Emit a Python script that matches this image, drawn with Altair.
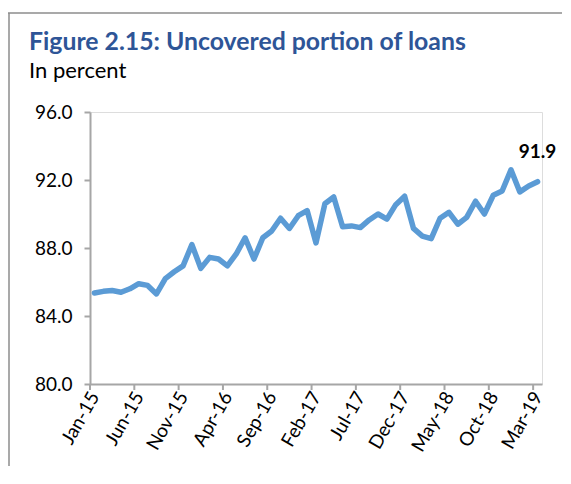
import altair as alt
import pandas as pd

# ---- data ----
months = list(pd.date_range("2015-01-01", periods=51, freq="MS").strftime("%b-%y"))
values = [85.35, 85.45, 85.5, 85.4, 85.6, 85.9, 85.8, 85.3, 86.2, 86.6,
          86.95, 88.2, 86.8, 87.45, 87.35, 86.95, 87.65, 88.6, 87.35, 88.6,
          89.0, 89.75, 89.15, 89.9, 90.2, 88.3, 90.6, 91.0, 89.25, 89.3,
          89.2, 89.65, 90.0, 89.7, 90.55, 91.05, 89.15, 88.7, 88.55, 89.75,
          90.1, 89.4, 89.8, 90.75, 90.0, 91.1, 91.35, 92.6, 91.3, 91.65,
          91.9]
y_ticks = [80, 84, 88, 92, 96]
label_idx = list(range(0, 51, 5))
tick_bounds = [i - 0.5 for i in label_idx]
title_text = ["Figure 2.15: Uncovered portion of loans"]
subtitle_text = ["In percent"]

df = pd.DataFrame({"idx": list(range(len(values))), "month": months, "value": values})
ticks_df = pd.DataFrame({"b": tick_bounds})

W, H = 452, 272
AX = "#A6A6A6"
FONT = "Lato"
xscale = alt.Scale(domain=[-0.5, 50.5], nice=False, zero=False)
yscale = alt.Scale(domain=[80, 96], nice=False, zero=False)
label_js = "[" + ",".join(f"'{m}'" for m in months) + "][datum.value]"

line = alt.Chart(df).mark_line(
    color="#5B9BD5", strokeWidth=5.5, strokeCap="round", strokeJoin="round"
).encode(
    x=alt.X("idx:Q", scale=xscale, axis=alt.Axis(
        values=label_idx, labelExpr=label_js, labelAngle=-60, labelAlign="right",
        labelBaseline="middle", ticks=False, labelPadding=9, labelFontSize=19,
        labelColor="#000000", labelFont=FONT, domainColor=AX, domainWidth=2,
        grid=False, title=None, labelOverlap=False)),
    y=alt.Y("value:Q", scale=yscale, axis=alt.Axis(
        values=y_ticks, format=".1f", tickSize=6, tickColor=AX, tickWidth=2,
        domainColor=AX, domainWidth=2, labelPadding=12, labelFontSize=19,
        labelColor="#000000", labelFont=FONT, grid=False, title=None)),
)

xticks = alt.Chart(ticks_df).mark_rule(color=AX, strokeWidth=2).encode(
    x=alt.X("b:Q", scale=xscale),
    y=alt.value(H), y2=alt.value(H + 6),
)

last_label = alt.Chart(df).transform_filter(alt.datum.idx == len(values) - 1).mark_text(
    fontWeight="bold", fontSize=19, dy=-30, font=FONT, color="#000000", baseline="middle"
).encode(
    x=alt.X("idx:Q", scale=xscale),
    y=alt.Y("value:Q", scale=yscale),
    text=alt.Text("value:Q", format=".1f"),
)

title = alt.Chart(pd.DataFrame({"t": title_text})).mark_text(
    align="left", baseline="alphabetic", fontSize=24.8, fontWeight="bold",
    font=FONT, color="#2E5597"
).encode(x=alt.value(-61), y=alt.value(-62), text="t:N")

subtitle = alt.Chart(pd.DataFrame({"t": subtitle_text})).mark_text(
    align="left", baseline="alphabetic", fontSize=22, font=FONT, color="#000000"
).encode(x=alt.value(-61), y=alt.value(-34), text="t:N")

frame_df = pd.DataFrame({"k": [0]})
frame_left = alt.Chart(frame_df).mark_rule(color="#8C8C8C", strokeWidth=1.5).encode(
    x=alt.value(-81), y=alt.value(-99), y2=alt.value(380))
frame_top = alt.Chart(frame_df).mark_rect(color="#8C8C8C", strokeWidth=0).encode(
    x=alt.value(-82), x2=alt.value(472), y=alt.value(-99.75), y2=alt.value(-98.25))

chart = alt.layer(
    frame_left, frame_top, title, subtitle, xticks, line, last_label
).properties(
    width=W, height=H, autosize="none",
    padding={"left": 82, "top": 104, "right": 21, "bottom": 82},
).configure_view(stroke=None).configure(background="white")

chart.save("out.html", embed_options={"renderer": "svg", "actions": False})
